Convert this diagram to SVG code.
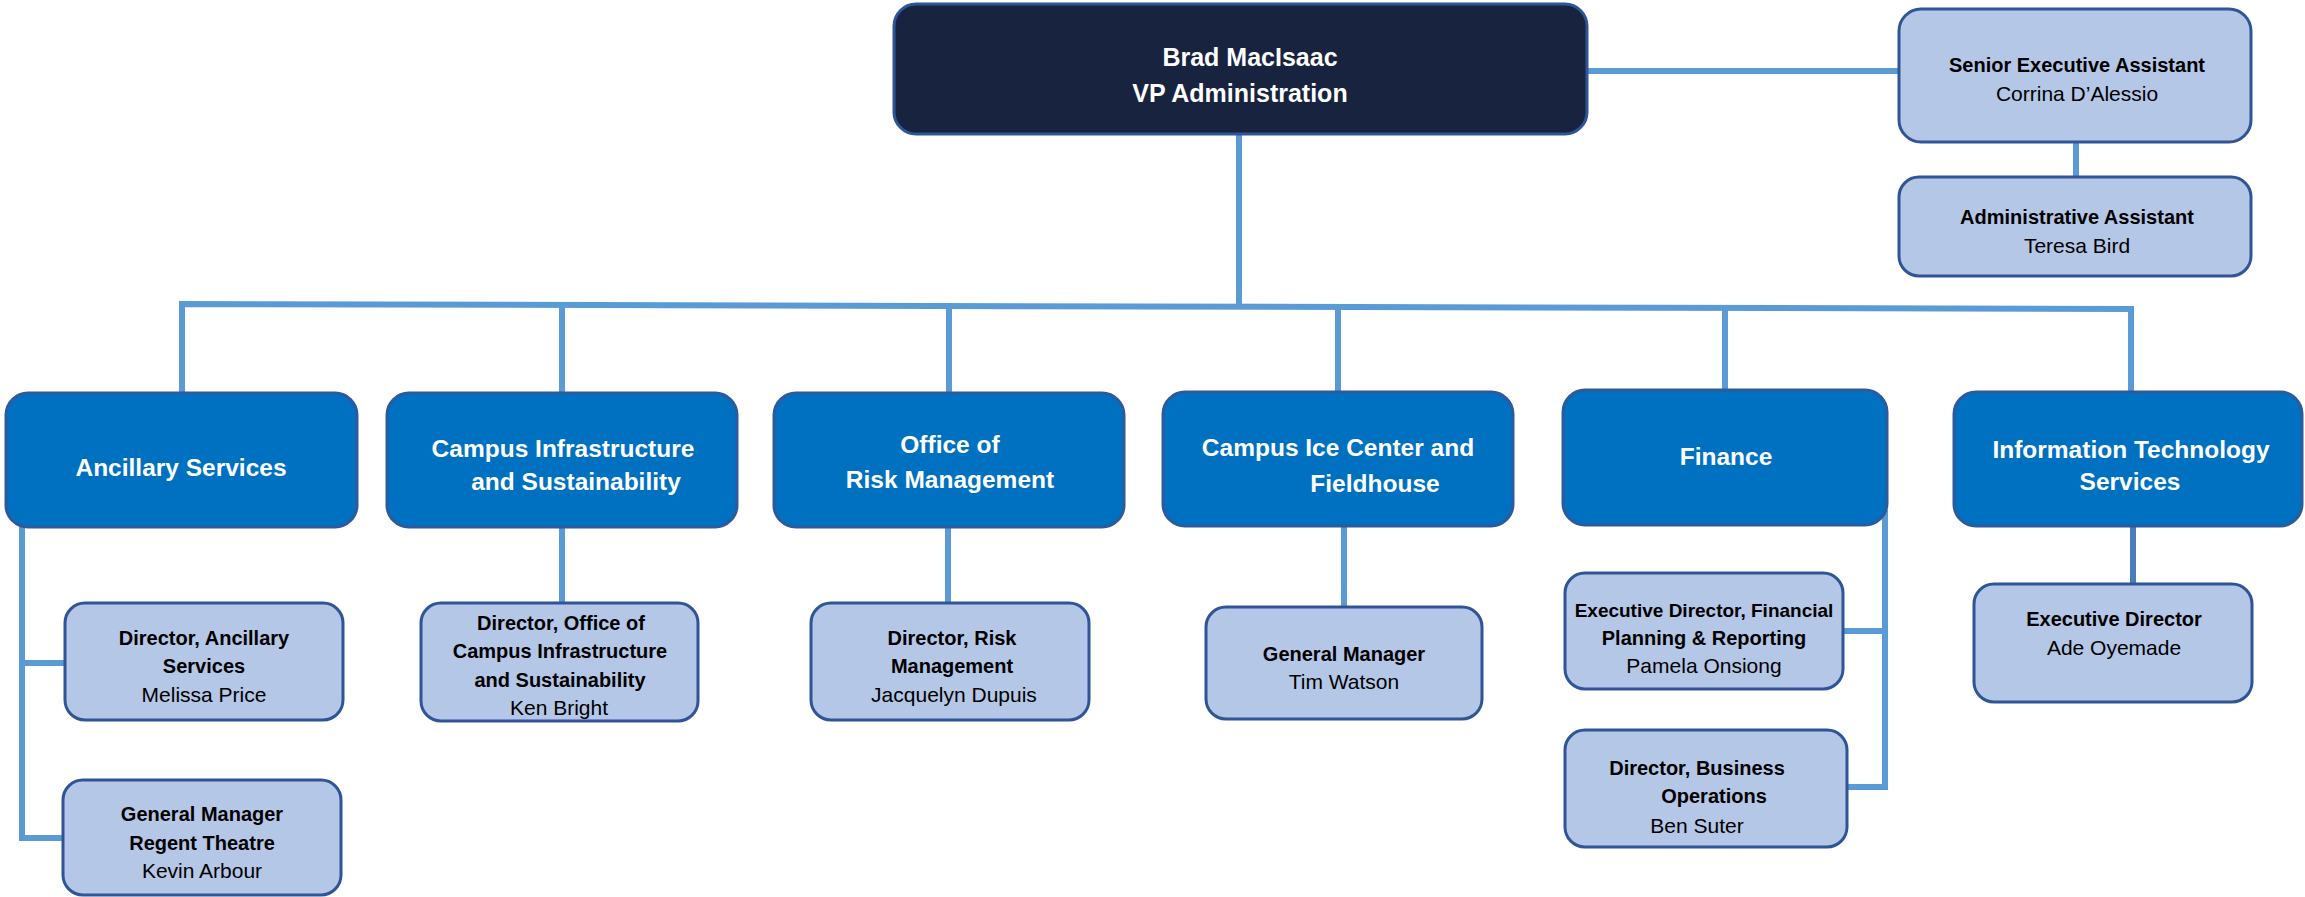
<svg xmlns="http://www.w3.org/2000/svg" width="2305" height="897" viewBox="0 0 2305 897">
<style>
.c{stroke:#5b9bd5;stroke-width:6;fill:none;stroke-linecap:square}
.top{fill:#17233f;stroke:#2f5597;stroke-width:3}
.l2{fill:#0070c0;stroke:#2b5a9e;stroke-width:3}
.l3{fill:#b4c7e7;stroke:#2f5597;stroke-width:3}
text{font-family:"Liberation Sans",Arial,sans-serif;text-anchor:middle}
.tw{fill:#ffffff;font-weight:bold;font-size:25px}
.t2{fill:#ffffff;font-weight:bold;font-size:24.5px}
.tb{fill:#000000;font-weight:bold;font-size:20px}
.tn{fill:#000000;font-size:21px}
</style>
<g id="connectors">
<line class="c" x1="1587" y1="71" x2="1899" y2="71"/>
<line class="c" x1="2076" y1="142" x2="2076" y2="177"/>
<line class="c" x1="1239" y1="134" x2="1239" y2="305"/>
<polyline class="c" points="182,393 182,304 2131,309 2131,392"/>
<line class="c" x1="562" y1="305" x2="562" y2="393"/>
<line class="c" x1="949" y1="306" x2="949" y2="393"/>
<line class="c" x1="1338" y1="307" x2="1338" y2="392"/>
<line class="c" x1="1725" y1="308" x2="1725" y2="390"/>
<polyline class="c" points="22,527 22,838 63,838"/>
<line class="c" x1="22" y1="663" x2="65" y2="663"/>
<line class="c" x1="562" y1="527" x2="562" y2="603"/>
<line class="c" x1="948" y1="527" x2="948" y2="603"/>
<line class="c" x1="1344" y1="526" x2="1344" y2="607"/>
<polyline class="c" points="1885,513 1885,787 1847,787"/>
<line class="c" x1="1843" y1="631" x2="1885" y2="631"/>
<line class="c" x1="2133" y1="526" x2="2133" y2="584" style="stroke:#4a7cba"/>
</g>
<g id="vp"><rect class="top" x="894" y="4" width="693" height="130" rx="22"/>
<text class="tw" x="1250" y="66">Brad MacIsaac</text>
<text class="tw" x="1240" y="102">VP Administration</text></g>
<g id="senior-exec-assistant"><rect class="l3" x="1899" y="9" width="352" height="133" rx="22"/>
<text class="tb" x="2077" y="72">Senior Executive Assistant</text>
<text class="tn" x="2077" y="101">Corrina D’Alessio</text></g>
<g id="admin-assistant"><rect class="l3" x="1899" y="177" width="352" height="99" rx="20"/>
<text class="tb" x="2077" y="224">Administrative Assistant</text>
<text class="tn" x="2077" y="253">Teresa Bird</text></g>
<g id="ancillary"><rect class="l2" x="6" y="393" width="351" height="134" rx="22"/>
<text class="t2" x="181" y="476">Ancillary Services</text></g>
<g id="campus-infra"><rect class="l2" x="387" y="393" width="350" height="134" rx="22"/>
<text class="t2" x="563" y="457">Campus Infrastructure</text>
<text class="t2" x="576" y="490">and Sustainability</text></g>
<g id="risk"><rect class="l2" x="774" y="393" width="350" height="134" rx="22"/>
<text class="t2" x="950" y="453">Office of</text>
<text class="t2" x="950" y="488">Risk Management</text></g>
<g id="ice"><rect class="l2" x="1163" y="392" width="350" height="134" rx="22"/>
<text class="t2" x="1338" y="456">Campus Ice Center and</text>
<text class="t2" x="1375" y="492">Fieldhouse</text></g>
<g id="finance"><rect class="l2" x="1563" y="390" width="324" height="135" rx="22"/>
<text class="t2" x="1726" y="465">Finance</text></g>
<g id="it"><rect class="l2" x="1954" y="392" width="348" height="134" rx="22"/>
<text class="t2" x="2131" y="458">Information Technology</text>
<text class="t2" x="2130" y="490">Services</text></g>
<g id="dir-ancillary"><rect class="l3" x="65" y="603" width="278" height="117" rx="20"/>
<text class="tb" x="204" y="645">Director, Ancillary</text>
<text class="tb" x="204" y="673">Services</text>
<text class="tn" x="204" y="702">Melissa Price</text></g>
<g id="gm-regent"><rect class="l3" x="63" y="780" width="278" height="115" rx="20"/>
<text class="tb" x="202" y="821">General Manager</text>
<text class="tb" x="202" y="850">Regent Theatre</text>
<text class="tn" x="202" y="878">Kevin Arbour</text></g>
<g id="dir-campus"><rect class="l3" x="421" y="603" width="277" height="118" rx="20"/>
<text class="tb" x="561" y="630">Director, Office of</text>
<text class="tb" x="560" y="658">Campus  Infrastructure</text>
<text class="tb" x="560" y="687">and Sustainability</text>
<text class="tn" x="559" y="715">Ken Bright</text></g>
<g id="dir-risk"><rect class="l3" x="811" y="603" width="278" height="117" rx="20"/>
<text class="tb" x="952" y="645">Director, Risk</text>
<text class="tb" x="952" y="673">Management</text>
<text class="tn" x="954" y="702">Jacquelyn Dupuis</text></g>
<g id="gm-ice"><rect class="l3" x="1206" y="607" width="276" height="112" rx="20"/>
<text class="tb" x="1344" y="661">General Manager</text>
<text class="tn" x="1344" y="689">Tim Watson</text></g>
<g id="exec-dir-finance"><rect class="l3" x="1565" y="573" width="278" height="116" rx="20"/>
<text class="tb" x="1704" y="617" style="font-size:19px">Executive Director, Financial</text>
<text class="tb" x="1704" y="645">Planning &amp; Reporting</text>
<text class="tn" x="1704" y="673">Pamela Onsiong</text></g>
<g id="dir-business"><rect class="l3" x="1565" y="730" width="282" height="117" rx="20"/>
<text class="tb" x="1697" y="775">Director, Business</text>
<text class="tb" x="1714" y="803">Operations</text>
<text class="tn" x="1697" y="833">Ben Suter</text></g>
<g id="exec-dir-it"><rect class="l3" x="1974" y="584" width="278" height="118" rx="20"/>
<text class="tb" x="2114" y="626">Executive Director</text>
<text class="tn" x="2114" y="655">Ade Oyemade</text></g>
</svg>
